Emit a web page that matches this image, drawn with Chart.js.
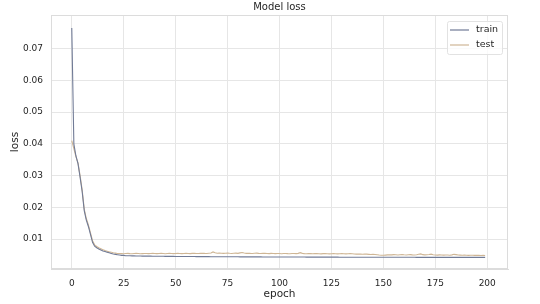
<!DOCTYPE html>
<html>
<head>
<meta charset="utf-8">
<script src="https://cdn.jsdelivr.net/npm/chart.js@4/dist/chart.umd.min.js"></script>
<style>
  html, body { margin: 0; padding: 0; background: #fff; }
  #wrap { width: 540px; height: 304px; }
</style>
</head>
<body>
<div id="wrap"><canvas id="lossChart" width="540" height="304"></canvas></div>
<script>
const xTicks = [0, 25, 50, 75, 100, 125, 150, 175, 200];
const yTicks = [0.01, 0.02, 0.03, 0.04, 0.05, 0.06, 0.07];

// loss per epoch (0..199)
const trainLoss = [
  0.0765, 0.0400, 0.0362, 0.0338, 0.0295, 0.0250, 0.0190, 0.0160, 0.0140, 0.0115,
  0.0090, 0.0078, 0.0073, 0.0069, 0.0066, 0.0063, 0.0061, 0.0059, 0.0057, 0.0055,
  0.0053, 0.0052, 0.0051, 0.0050, 0.0049, 0.0049,
  0.00478, 0.00476, 0.00475, 0.00473, 0.00472, 0.00471, 0.00470, 0.00468, 0.00467, 0.00466,
  0.00466, 0.00465, 0.00464, 0.00463, 0.00463, 0.00462, 0.00461, 0.00461, 0.00460, 0.00459,
  0.00459, 0.00458, 0.00458, 0.00457,
  0.00456, 0.00456, 0.00455, 0.00455, 0.00454, 0.00454, 0.00453, 0.00453, 0.00452, 0.00452,
  0.00451, 0.00451, 0.00450, 0.00450, 0.00450, 0.00449, 0.00449, 0.00448, 0.00448, 0.00448,
  0.00447, 0.00447, 0.00446, 0.00446, 0.00446, 0.00445, 0.00445, 0.00445, 0.00444, 0.00444,
  0.00444, 0.00443, 0.00443, 0.00443, 0.00442, 0.00442, 0.00442, 0.00442, 0.00441, 0.00441,
  0.00441, 0.00441, 0.00440, 0.00440, 0.00440, 0.00440, 0.00439, 0.00439, 0.00439, 0.00439,
  0.00438, 0.00438, 0.00438, 0.00438, 0.00437, 0.00437, 0.00437, 0.00437, 0.00436, 0.00436,
  0.00436, 0.00436, 0.00436, 0.00435, 0.00435, 0.00435, 0.00435, 0.00435, 0.00434, 0.00434,
  0.00434, 0.00434, 0.00434, 0.00433, 0.00433, 0.00433, 0.00433, 0.00433, 0.00433, 0.00432,
  0.00432, 0.00432, 0.00432, 0.00432, 0.00432, 0.00431, 0.00431, 0.00431, 0.00431, 0.00431,
  0.00431, 0.00431, 0.00430, 0.00430, 0.00430, 0.00430, 0.00430, 0.00430, 0.00430, 0.00430,
  0.00429, 0.00429, 0.00429, 0.00429, 0.00429, 0.00429, 0.00429, 0.00428, 0.00428, 0.00428,
  0.00428, 0.00428, 0.00428, 0.00428, 0.00428, 0.00428, 0.00427, 0.00427, 0.00427, 0.00427,
  0.00427, 0.00427, 0.00427, 0.00427, 0.00427, 0.00427, 0.00427, 0.00426, 0.00426, 0.00426,
  0.00426, 0.00426, 0.00426, 0.00426, 0.00426, 0.00426, 0.00426, 0.00426, 0.00426, 0.00425,
  0.00425, 0.00425, 0.00425, 0.00425, 0.00425, 0.00425, 0.00425, 0.00425, 0.00425, 0.00425
];

const testLoss = [
  0.0410, 0.0385, 0.0360, 0.0340, 0.0300, 0.0255, 0.0195, 0.0165, 0.0145, 0.0120,
  0.0095, 0.0082, 0.0077, 0.0073, 0.0070, 0.0067, 0.0064, 0.0062, 0.0060, 0.0059,
  0.0057, 0.0056, 0.0055,
  0.00548, 0.00545, 0.00542, 0.00546, 0.00551, 0.00544, 0.00540, 0.00547, 0.00552, 0.00546,
  0.00541, 0.00545, 0.00550, 0.00548, 0.00543, 0.00546, 0.00553, 0.00549, 0.00544, 0.00547,
  0.00551, 0.00546, 0.00542, 0.00548, 0.00553, 0.00547, 0.00544,
  0.00549, 0.00552, 0.00546, 0.00543, 0.00550, 0.00555, 0.00549, 0.00545, 0.00551, 0.00556,
  0.00550, 0.00547, 0.00553, 0.00558, 0.00552, 0.00548, 0.00556, 0.00562, 0.00598, 0.00570,
  0.00558, 0.00565, 0.00556, 0.00551, 0.00557, 0.00562, 0.00554, 0.00549, 0.00555, 0.00560,
  0.00553, 0.00567, 0.00579, 0.00562, 0.00553, 0.00558, 0.00552, 0.00548, 0.00554, 0.00559,
  0.00551, 0.00546, 0.00552, 0.00557, 0.00550, 0.00545, 0.00551, 0.00548, 0.00543, 0.00549,
  0.00546, 0.00541, 0.00547, 0.00550, 0.00544, 0.00540, 0.00546, 0.00549, 0.00543, 0.00552,
  0.00575, 0.00553, 0.00545, 0.00541, 0.00547, 0.00543, 0.00539, 0.00545, 0.00548, 0.00542,
  0.00538, 0.00544, 0.00547, 0.00541, 0.00537, 0.00542, 0.00546, 0.00540, 0.00536, 0.00541,
  0.00545, 0.00539, 0.00535, 0.00540, 0.00544, 0.00538, 0.00533, 0.00529, 0.00534, 0.00530,
  0.00526, 0.00531, 0.00527, 0.00522, 0.00518, 0.00523, 0.00515, 0.00508, 0.00500, 0.00495,
  0.00492, 0.00498, 0.00504, 0.00510, 0.00506, 0.00512, 0.00508, 0.00503, 0.00509, 0.00514,
  0.00507, 0.00502, 0.00508, 0.00513, 0.00506, 0.00501, 0.00507, 0.00524, 0.00535, 0.00512,
  0.00504, 0.00509, 0.00515, 0.00528, 0.00510, 0.00503, 0.00498, 0.00504, 0.00500, 0.00496,
  0.00502, 0.00499, 0.00495, 0.00506, 0.00522, 0.00513, 0.00500, 0.00496, 0.00493, 0.00498,
  0.00494, 0.00490, 0.00495, 0.00491, 0.00488, 0.00493, 0.00489, 0.00486, 0.00490, 0.00487
];

const epochs = trainLoss.map((_, i) => i);

const font = 'DejaVu Sans';
const textColor = '#262626';
const gridColor = '#e6e6e6';
const titleText = 'Model loss';

// title centred over the plot, full frame, and the boxed legend top right
const frameAndLegend = {
  id: 'frameAndLegend',
  beforeDraw(chart) {
    const ctx = chart.ctx;
    const area = chart.chartArea;
    ctx.save();
    ctx.font = '10px "' + font + '"';
    ctx.fillStyle = textColor;
    ctx.textAlign = 'center';
    ctx.textBaseline = 'middle';
    ctx.fillText(titleText, (area.left + area.right) / 2, 7);
    ctx.restore();
  },
  afterDatasetsDraw(chart) {
    const ctx = chart.ctx;
    const area = chart.chartArea;
    ctx.save();
    ctx.strokeStyle = '#dcdcdc';
    ctx.lineWidth = 1;
    ctx.strokeRect(area.left + 0.5, area.top + 0.5, area.right - area.left - 1, area.bottom - area.top - 1);

    const w = 55, h = 33;
    const x = area.right - 6 - w;
    const y = area.top + 6;
    ctx.fillStyle = 'rgba(255,255,255,0.8)';
    ctx.strokeStyle = '#e2e2e2';
    ctx.beginPath();
    ctx.roundRect(x + 0.5, y + 0.5, w, h, 2);
    ctx.fill();
    ctx.stroke();
    ctx.font = '9.5px "' + font + '"';
    ctx.textBaseline = 'middle';
    ctx.textAlign = 'left';
    chart.data.datasets.forEach((ds, i) => {
      const ly = y + 9 + i * 15;
      ctx.strokeStyle = ds.borderColor;
      ctx.lineWidth = 1.2;
      ctx.beginPath();
      ctx.moveTo(x + 3, ly);
      ctx.lineTo(x + 22, ly);
      ctx.stroke();
      ctx.fillStyle = textColor;
      ctx.fillText(ds.label, x + 29, ly);
    });
    ctx.restore();
  }
};

new Chart(document.getElementById('lossChart').getContext('2d'), {
  type: 'line',
  data: {
    labels: epochs,
    datasets: [
      {
        label: 'train',
        data: trainLoss,
        borderColor: '#717b96',
        borderWidth: 1.1,
        pointRadius: 0,
        tension: 0
      },
      {
        label: 'test',
        data: testLoss,
        borderColor: '#cfb695',
        borderWidth: 1.1,
        pointRadius: 0,
        tension: 0
      }
    ]
  },
  plugins: [frameAndLegend],
  options: {
    responsive: false,
    animation: false,
    layout: { padding: { left: 0, right: 32, top: 15, bottom: 0 } },
    plugins: {
      legend: { display: false },
      tooltip: { enabled: false },
      title: { display: false }
    },
    scales: {
      x: {
        type: 'linear',
        min: -10,
        max: 210,
        afterBuildTicks: s => { s.ticks = xTicks.map(v => ({ value: v })); },
        afterFit: s => { s.height = 35; },
        ticks: {
          color: textColor,
          font: { family: font, size: 9 },
          padding: 9,
          maxRotation: 0
        },
        grid: { color: gridColor, lineWidth: 1, drawTicks: false },
        border: { color: '#dcdcdc' },
        title: {
          display: true,
          text: 'epoch',
          color: textColor,
          font: { family: font, size: 10.5 },
          padding: { top: 0, bottom: 3 }
        }
      },
      y: {
        min: 0.0006,
        max: 0.0806,
        afterBuildTicks: s => { s.ticks = yTicks.map(v => ({ value: v })); },
        afterFit: s => { s.width = 51; },
        ticks: {
          color: textColor,
          font: { family: font, size: 9 },
          padding: 8,
          callback: v => v.toFixed(2)
        },
        grid: { color: gridColor, lineWidth: 1, drawTicks: false },
        border: { color: '#dcdcdc' },
        title: {
          display: true,
          text: 'loss',
          color: textColor,
          font: { family: font, size: 10.5 },
          padding: { top: 9, bottom: 0 }
        }
      }
    }
  }
});
</script>
</body>
</html>
